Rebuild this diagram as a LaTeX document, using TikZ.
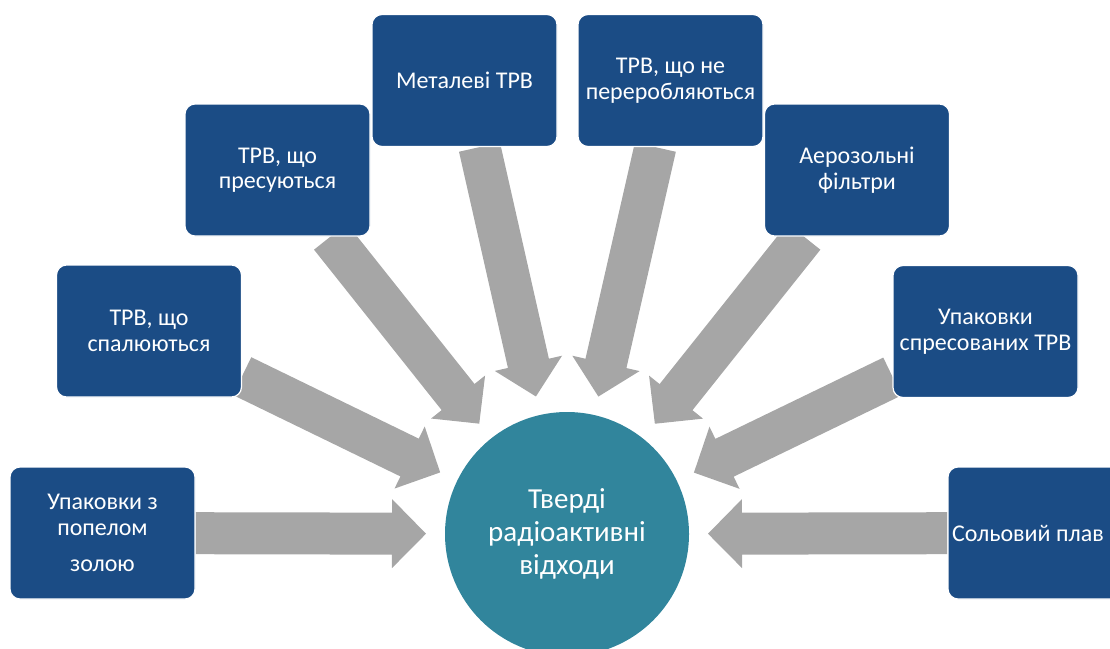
\documentclass[tikz,border=0pt]{standalone}
\usepackage{fontspec}
\setmainfont{Carlito}
\usetikzlibrary{calc}
\definecolor{boxblue}{RGB}{27,76,133}
\definecolor{hubteal}{RGB}{49,133,156}
\definecolor{arrowgray}{RGB}{166,166,166}
\pgfdeclarelayer{bg}
\pgfsetlayers{bg,main}
\newcommand\flowarrow[2]{%
  \path (#1) -- (#2) coordinate[pos=0] (fa-s);
  \coordinate (fa-t) at ($(#2)!141pt!(#1)$);
  \coordinate (fa-h) at ($(fa-t)!34pt!(fa-s)$);
  \begin{pgfonlayer}{bg}
  \fill[flowfill] ($(fa-s)!21pt!90:(fa-t)$) -- ($(fa-h)!21pt!90:(fa-t)$)
    -- ($(fa-h)!34.5pt!90:(fa-t)$) -- (fa-t)
    -- ($(fa-h)!34.5pt!-90:(fa-t)$) -- ($(fa-h)!21pt!-90:(fa-t)$)
    -- ($(fa-s)!21pt!-90:(fa-t)$) -- cycle;
  \end{pgfonlayer}}
\tikzset{
  box/.style={rectangle, rounded corners=10pt, fill=boxblue, draw=white,
    line width=1.2pt, text=white, minimum width=185pt, minimum height=132pt,
    align=center, inner sep=0pt, font=\fontsize{24}{25.5}\selectfont},
  hub/.style={circle, fill=hubteal, minimum size=244pt, inner sep=0pt,
    outer sep=0pt, text=white, align=center, font=\fontsize{29}{33}\selectfont},
  flowfill/.style={fill=arrowgray}
}
\begin{document}
\begin{tikzpicture}[x=1pt,y=-1pt]
\useasboundingbox (0,0) rectangle (1110,648);
\clip (0,0) rectangle (1110,648);
\node[hub] (c) at (567,534) {Тверді\\радіоактивні\\відходи};
\node[box] (b1) at (102.5,533) {Упаковки з\\попелом\\[11pt]золою};
\node[box] (b2) at (149,331) {ТРВ, що\\спалюються};
\node[box] (b3) at (277.5,170) {ТРВ, що\\пресуються};
\node[box] (b4) at (464.5,80.5) {Металеві ТРВ};
\node[box] (b5) at (670.5,80.5) {ТРВ, що не\\переробляються};
\node[box] (b6) at (857,170) {Аерозольні\\фільтри};
\node[box] (b7) at (985.5,331.5) {Упаковки\\спресованих ТРВ};
\node[box, text width=177pt, align=flush left, inner xsep=4pt] (b8) at (1040.5,533) {Сольовий плав};
\foreach \b in {b1,b2,b3,b4,b5,b6,b7,b8} {\flowarrow{\b}{c}}
\end{tikzpicture}
\end{document}
